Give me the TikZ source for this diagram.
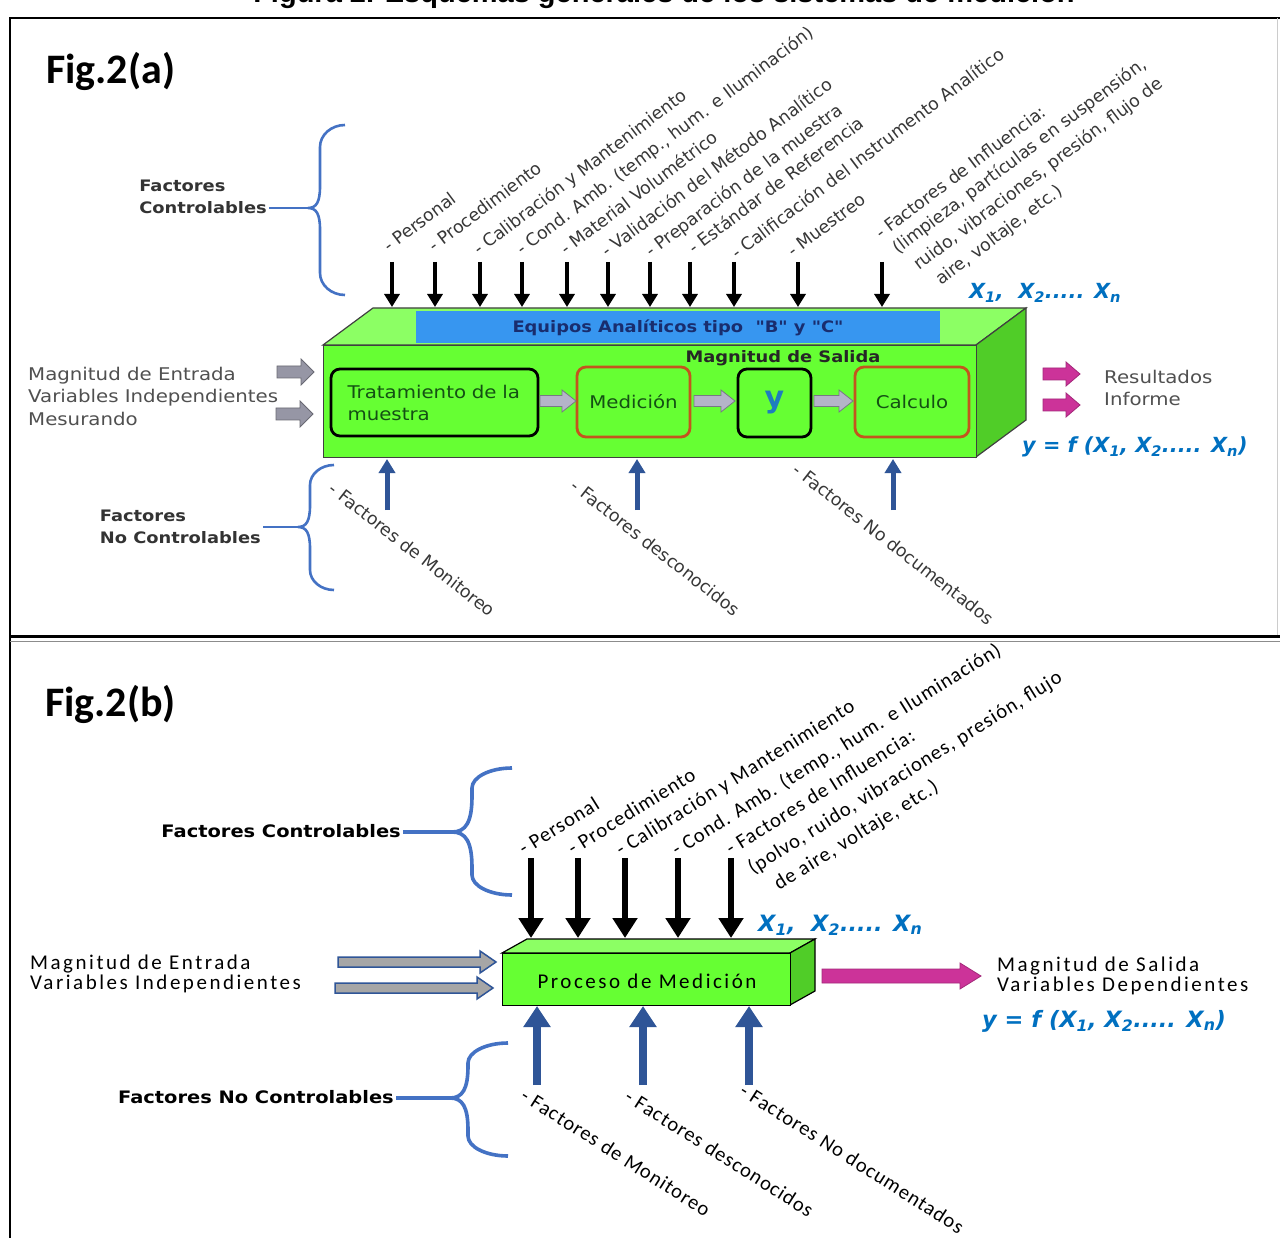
\documentclass[tikz,border=0pt]{standalone}
\usepackage{fontspec}
\setmainfont{DejaVu Sans}
\newfontfamily\fontA[FakeStretch=1.13]{DejaVu Sans}
\newfontfamily\fontR{DejaVu Sans}
\newfontfamily\fontB[LetterSpace=12]{Carlito}
\newfontfamily\fontBR[LetterSpace=5]{Carlito}
\newfontfamily\fontFig{Carlito}
\newfontfamily\fontT{Liberation Sans}
\usetikzlibrary{arrows.meta}

\newcommand\setfs[2]{\fontsize{#1}{#2}\selectfont}

\definecolor{gfront}{RGB}{102,255,51}
\definecolor{gtop}{RGB}{140,255,100}
\definecolor{gside}{RGB}{80,205,40}
\definecolor{barblue}{RGB}{55,150,240}
\definecolor{navytext}{RGB}{25,45,110}
\definecolor{navy}{RGB}{47,85,151}
\definecolor{braceblue}{RGB}{68,114,196}
\definecolor{magen}{RGB}{204,51,153}
\definecolor{fblue}{RGB}{0,112,192}
\definecolor{labgray}{RGB}{55,55,55}
\definecolor{txtgray}{RGB}{80,80,80}
\definecolor{dgreen}{RGB}{20,80,20}
\definecolor{obrown}{RGB}{195,85,30}
\definecolor{arrgray}{RGB}{150,150,165}
\definecolor{arrgrayl}{RGB}{180,180,200}
\definecolor{arrgrayb}{RGB}{166,166,166}
\definecolor{yblue}{RGB}{30,125,190}

% block arrow: style, x start, x end, y, half shaft, half head, head length
\newcommand\blockarrow[7]{%
  \draw[#1] (#2,{#4-#5}) -- ({#3-#7},{#4-#5}) -- ({#3-#7},{#4-#6}) -- (#3,#4)
    -- ({#3-#7},{#4+#6}) -- ({#3-#7},{#4+#5}) -- (#2,{#4+#5}) -- cycle;}

% left curly brace: style, x ends, x spine, x tip, y top, y tip, y bottom, vertical radius
\newcommand\curlybrace[8]{%
  \pgfmathsetmacro\brR{#2-#3}%
  \pgfmathsetmacro\brT{#3-#4}%
  \draw[#1] (#2,#5) .. controls ({#3+0.45*\brR},#5) and (#3,{#5+0.45*#8}) .. (#3,{#5+#8})
    -- (#3,{#6-1.8*\brT}) .. controls (#3,{#6-0.5*\brT}) and ({#3-0.3*\brT},#6) .. (#4,#6)
    .. controls ({#3-0.3*\brT},#6) and (#3,{#6+0.5*\brT}) .. (#3,{#6+1.8*\brT})
    -- (#3,{#7-#8}) .. controls (#3,{#7-0.45*#8}) and ({#3+0.45*\brR},#7) .. (#2,#7);}

\begin{document}
\begin{tikzpicture}[x=1pt,y=-1pt,
  boxedge/.style={draw=black!75, line width=1.2pt},
  ibox/.style={rounded corners=9pt, line width=2.8pt, fill=gfront, inner sep=0pt,
    font=\fontA\setfs{17.5}{22}, text=dgreen},
  txtA/.style={font=\fontA\setfs{17.5}{22.5}, text=txtgray, inner sep=1pt, align=left},
  boldA/.style={font=\fontA\bfseries\setfs{15.8}{22.5}, text=black!80, inner sep=2pt, align=left},
  labA/.style={font=\fontR\setfs{17.4}{20}, text=labgray, inner sep=0pt},
  labB/.style={font=\fontBR\setfs{20.5}{23}, text=black, inner sep=0pt},
  txtB/.style={font=\fontB\setfs{21}{20.5}, text=black, inner sep=1pt, align=left},
  boldB/.style={font=\fontA\bfseries\setfs{17.2}{20}, text=black, inner sep=2pt},
  formula/.style={font=\fontR\bfseries\itshape\setfs{20.8}{22}, text=fblue, inner sep=0pt},
  formulaB/.style={font=\fontR\bfseries\itshape\setfs{22.5}{24}, text=fblue, inner sep=0pt},
  bracestyle/.style={draw=braceblue, line width=2.6pt},
  bracestyleB/.style={draw=braceblue, line width=3.6pt},
  darrA/.style={line width=4pt, -{Triangle[width=15pt,length=13pt]}},
  uarrA/.style={draw=navy, line width=5pt, -{Triangle[width=16pt,length=14pt]}},
  darrB/.style={line width=6pt, -{Triangle[width=24pt,length=20pt]}},
  uarrB/.style={draw=navy, line width=8pt, -{Triangle[width=26pt,length=21pt]}},
  garrA/.style={fill=arrgrayl, draw=arrgray!80!black, line width=0.8pt},
  garrL/.style={fill=arrgray, draw=arrgray!70!black, line width=0.8pt},
  garrB/.style={fill=arrgrayb, draw=navy, line width=1.5pt},
  marr/.style={fill=magen, draw=magen!80!black, line width=0.8pt},
]
\useasboundingbox (0,0) rectangle (1280,1238);
\clip (0,0) rectangle (1280,1238);
\fill[white] (0,0) rectangle (1280,1238);

% caption running off the top edge
\node[font=\fontT\bfseries\setfs{29}{34}, anchor=base, inner sep=0pt] (title) at (664,3)
  {Figura 2. Esquemas generales de los sistemas de medición};

% panel frames
\draw[line width=2pt] (10,1240) -- (10,18) -- (1282,18);
\draw[black!20, line width=1pt] (1277,18) -- (1277,636);
\draw[line width=3pt] (10,636) -- (1282,636);
\draw[black!45, line width=0.8pt] (10,641) -- (1282,641);

%================ panel (a) ================
\node[font=\fontFig\bfseries\setfs{42}{48}, anchor=base west, inner sep=0pt] (figa) at (46,84) {Fig.2(a)};

% box: top face, blue bar, side face, front face
\filldraw[boxedge, fill=gtop] (323,345) -- (373,308) -- (1026,308) -- (976,345) -- cycle;
\fill[barblue] (416,311) rectangle (940,343);
\node[font=\fontA\bfseries\setfs{15.8}{18}, text=navytext] (equip) at (678,328)
  {Equipos Analíticos tipo \ "B" y "C"};
\filldraw[boxedge, fill=gside] (976,345) -- (1026,308) -- (1026,420) -- (976,457) -- cycle;
\node[boxedge, fill=gfront, minimum width=653pt, minimum height=112pt, inner sep=0pt,
  anchor=north west] (boxA) at (323,345) {};
\coordinate (topA) at (0,307);
\coordinate (botA) at (0,459);

\node[font=\fontA\bfseries\setfs{15.8}{18}, text=black!85] (salida) at (783,358) {Magnitud de Salida};

% stages inside the box
\node[ibox, draw=black, minimum width=207pt, minimum height=67pt, text width=174pt, align=left]
  (trat) at (434.5,402.5) {Tratamiento de la\\muestra};
\node[ibox, draw=obrown, minimum width=113pt, minimum height=70pt] (med) at (633.5,402) {Medición};
\node[ibox, draw=black, minimum width=73pt, minimum height=68pt,
  font=\fontR\bfseries\setfs{30}{30}, text=yblue] (yb) at (774.5,403) {y};
\node[ibox, draw=obrown, minimum width=114pt, minimum height=70pt] (calc) at (912,402) {Calculo};
\blockarrow{garrA}{540}{576}{401}{5.5}{11}{14}
\blockarrow{garrA}{694}{735}{401}{5.5}{11}{14}
\blockarrow{garrA}{814}{853}{401}{5.5}{11}{14}

% inputs and outputs
\node[txtA, anchor=west] (entA) at (27,396) {Magnitud de Entrada\\Variables Independientes\\Mesurando};
\blockarrow{garrL}{277}{314}{372}{6}{13}{13}
\blockarrow{garrL}{276}{313}{414}{6}{13}{13}
\blockarrow{marr}{1043}{1080}{374}{6}{12}{14}
\blockarrow{marr}{1043}{1080}{405}{6}{12}{14}
\node[txtA, anchor=west] (resA) at (1103,388) {Resultados\\Informe};
\node[formula, anchor=base west] (fA) at (1022,453)
  {y = f (X\textsubscript{1}, X\textsubscript{2}..... X\textsubscript{n})};
\node[formula, anchor=base west] (xA) at (969,299)
  {X\textsubscript{1},\ \ X\textsubscript{2}..... X\textsubscript{n}};

% controllable factors
\node[boldA, anchor=east] (fcA) at (269,197) {Factores\\Controlables};
\coordinate (tipA1) at (308,208);
\curlybrace{bracestyle}{345}{320}{308}{125}{208}{295}{22}
\draw[bracestyle] (fcA.east |- tipA1) -- (tipA1);

\foreach \x [count=\i] in {392,435,480,522,567,608,650,690,734,798,882} {
  \coordinate (da\i) at (\x,262);
  \draw[darrA] (da\i) -- (da\i |- topA);
}
\node[labA, rotate=37, anchor=base west] (la1) at (389,253) {- Personal};
\node[labA, rotate=37, anchor=base west] (la2) at (434,253) {- Procedimiento};
\node[labA, rotate=37, anchor=base west] (la3) at (479,256) {- Calibración y Mantenimiento};
\node[labA, rotate=37, anchor=base west] (la4) at (522,256) {- Cond. Amb. (temp., hum. e Iluminación)};
\node[labA, rotate=37, anchor=base west] (la5) at (566,256) {- Material Volumétrico};
\node[labA, rotate=37, anchor=base west] (la6) at (607,258) {- Validación del Método Analítico};
\node[labA, rotate=37, anchor=base west] (la7) at (651,258) {- Preparación de la muestra};
\node[labA, rotate=37, anchor=base west] (la8) at (694,255) {- Estándar de Referencia};
\node[labA, rotate=37, anchor=base west] (la9) at (737,260) {- Calificación del Instrumento Analítico};
\node[labA, rotate=37, anchor=base west] (la10) at (793,258) {- Muestreo};
\node[labA, rotate=37, anchor=base west] (la11) at (881,240) {- Factores de Influencia:};
\node[labA, rotate=37, anchor=base west] (la12) at (898,255) {(limpieza, partículas en suspensión,};
\node[labA, rotate=37, anchor=base west] (la13) at (919,271) {ruido, vibraciones, presión, flujo de};
\node[labA, rotate=37, anchor=base west] (la14) at (941,286) {aire, voltaje, etc.)};

% uncontrollable factors
\node[boldA, anchor=east] (fncA) at (263,527) {Factores\\No Controlables};
\coordinate (tipA2) at (298,527);
\curlybrace{bracestyle}{334}{310}{298}{465}{527}{590}{20}
\draw[bracestyle] (fncA.east |- tipA2) -- (tipA2);

\foreach \x [count=\i] in {387,637,893} {
  \coordinate (ua\i) at (\x,510);
  \draw[uarrA] (ua\i) -- (ua\i |- botA);
}
\node[labA, rotate=-38, anchor=north west] (lb1) at (336,481) {- Factores de Monitoreo};
\node[labA, rotate=-38, anchor=north west] (lb2) at (578,478) {- Factores desconocidos};
\node[labA, rotate=-38, anchor=north west] (lb3) at (800,462) {- Factores No documentados};

%================ panel (b) ================
\node[font=\fontFig\bfseries\setfs{42}{48}, anchor=base west, inner sep=0pt] (figb) at (45,716) {Fig.2(b)};

\filldraw[draw=black, line width=1.2pt, fill=gtop] (502,953) -- (527,939) -- (815,939) -- (790,953) -- cycle;
\filldraw[draw=black, line width=1.2pt, fill=gside] (790,953) -- (815,939) -- (815,991) -- (790,1005) -- cycle;
\node[draw=black, line width=1.2pt, fill=gfront, minimum width=288pt, minimum height=52pt,
  inner sep=0pt, anchor=north west] (boxB) at (502,953) {};
\node[font=\fontB\setfs{21}{20}] (proc) at (647,981) {Proceso de Medición};
\coordinate (topB) at (0,938);
\coordinate (botB) at (0,1006);

\node[txtB, anchor=west] (entB) at (29,974) {Magnitud de Entrada\\Variables Independientes};
\blockarrow{garrB}{338}{496}{962}{5}{11}{16}
\blockarrow{garrB}{335}{493}{988}{5}{11}{16}
\blockarrow{marr}{822}{981}{976}{7}{13}{21}
\node[txtB, anchor=west] (salB) at (996,976) {Magnitud de Salida\\Variables Dependientes};
\node[formulaB, anchor=base west] (fB) at (982,1027)
  {y = f (X\textsubscript{1}, X\textsubscript{2}..... X\textsubscript{n})};
\node[formulaB, anchor=base west] (xB) at (758,931)
  {X\textsubscript{1},\ \ X\textsubscript{2}..... X\textsubscript{n}};

\node[boldB, anchor=east] (fcB) at (403,831) {Factores Controlables};
\coordinate (tipB1) at (452,832);
\curlybrace{bracestyleB}{512}{472}{452}{768}{832}{895}{20}
\draw[bracestyleB] (fcB.east |- tipB1) -- (tipB1);

\foreach \x [count=\i] in {531,578,625,678,731} {
  \coordinate (db\i) at (\x,858);
  \draw[darrB] (db\i) -- (db\i |- topB);
}
\node[labB, rotate=32, anchor=base west] (lc1) at (524,856) {- Personal};
\node[labB, rotate=32, anchor=base west] (lc2) at (573,856) {- Procedimiento};
\node[labB, rotate=32, anchor=base west] (lc3) at (621,857) {- Calibración y Mantenimiento};
\node[labB, rotate=32, anchor=base west] (lc4) at (677,857) {- Cond. Amb. (temp., hum. e Iluminación)};
\node[labB, rotate=32, anchor=base west] (lc5) at (731,856) {- Factores de Influencia:};
\node[labB, rotate=32, anchor=base west] (lc6) at (753,875) {(polvo, ruido, vibraciones, presión, flujo};
\node[labB, rotate=32, anchor=base west] (lc7) at (779,891) {de aire, voltaje, etc.)};

\node[boldB, anchor=east] (fncB) at (396,1097) {Factores No Controlables};
\coordinate (tipB2) at (450,1098);
\curlybrace{bracestyleB}{508}{468}{450}{1043}{1098}{1156}{20}
\draw[bracestyleB] (fncB.east |- tipB2) -- (tipB2);

\foreach \x [count=\i] in {537,643,749} {
  \coordinate (ub\i) at (\x,1085);
  \draw[uarrB] (ub\i) -- (ub\i |- botB);
}
\node[labB, rotate=-32.5, anchor=north west] (ld1) at (527,1087) {- Factores de Monitoreo};
\node[labB, rotate=-32.5, anchor=north west] (ld2) at (631,1088) {- Factores desconocidos};
\node[labB, rotate=-32.5, anchor=north west] (ld3) at (746,1082) {- Factores No documentados};
\end{tikzpicture}
\end{document}
